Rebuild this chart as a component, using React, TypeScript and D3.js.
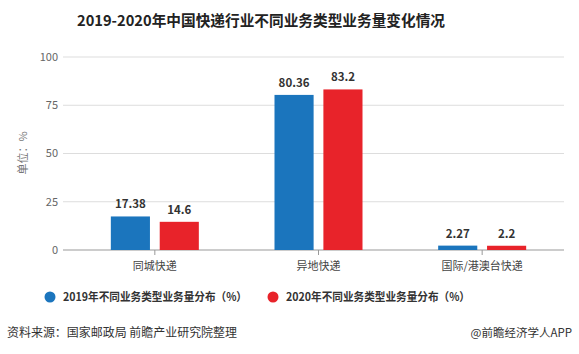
import React from "react";
import * as d3 from "d3";

const categories = ["同城快递", "异地快递", "国际/港澳台快递"];
const seriesNames = ["2019年不同业务类型业务量分布（%）", "2020年不同业务类型业务量分布（%）"];
const values2019 = [17.38, 80.36, 2.27];
const values2020 = [14.6, 83.2, 2.2];
const valueLabels2019 = ["17.38", "80.36", "2.27"];
const valueLabels2020 = ["14.6", "83.2", "2.2"];
const yTicks = [0, 25, 50, 75, 100];
const colors = ["#1b75bd", "#e8232a"];

const W = 579;
const H = 354;
const FONT = "'Noto Sans CJK SC', 'Noto Sans', sans-serif";

export default function App() {
  const x = d3.scaleBand<string>().domain(categories).range([73, 564]);
  const xs = d3.scaleBand<string>().domain(["0", "1"]).range([-44, 44]).paddingInner(0.2);
  const y = d3.scaleLinear().domain([0, 100]).range([250, 57]);
  const series = [
    { vals: values2019, labels: valueLabels2019 },
    { vals: values2020, labels: valueLabels2020 },
  ];
  return (
    <svg width={W} height={H} style={{ position: "absolute", left: 0, top: 0, background: "#fff" }} fontFamily={FONT}>
      <rect x={0} y={0} width={W} height={H} fill="#fff" />
      <text x={77} y={26} fontSize={15} fontWeight="bold" fill="#222" textLength={368} lengthAdjust="spacingAndGlyphs">
        2019-2020年中国快递行业不同业务类型业务量变化情况
      </text>
      {yTicks.map((t) => (
        <g key={t}>
          <line x1={63} x2={564} y1={y(t)} y2={y(t)} stroke={t === 0 ? "#999" : "#ddd"} strokeWidth={1} />
          <text x={58} y={y(t)} dy="0.35em" textAnchor="end" fontSize={11} fill="#666">
            {t}
          </text>
        </g>
      ))}
      <text transform={`translate(23,153) rotate(-90)`} textAnchor="middle" dy="0.35em" fontSize={11} fill="#777">
        单位：%
      </text>
      {categories.map((c) => {
        const cx = (x(c) as number) + x.bandwidth() / 2;
        return (
          <g key={c}>
            <line x1={cx} x2={cx} y1={250} y2={255} stroke="#999" />
            <text x={cx} y={266} dy="0.35em" textAnchor="middle" fontSize={11} fill="#444">
              {c}
            </text>
          </g>
        );
      })}
      {series.map((s, si) =>
        categories.map((c, ci) => {
          const cx = (x(c) as number) + x.bandwidth() / 2;
          const bx = cx + (xs(String(si)) as number);
          const v = s.vals[ci];
          return (
            <g key={`${si}-${ci}`}>
              <rect x={bx} y={y(v)} width={xs.bandwidth()} height={250 - y(v)} fill={colors[si]} />
              <text x={bx + xs.bandwidth() / 2} y={y(v) - 8} textAnchor="middle" fontSize={11.5} fontWeight="bold" fill="#333">
                {s.labels[ci]}
              </text>
            </g>
          );
        })
      )}
      {seriesNames.map((n, i) => {
        const lx = i === 0 ? 50 : 273;
        return (
          <g key={n}>
            <circle cx={lx} cy={297} r={5.5} fill={colors[i]} />
            <text x={lx + 13} y={297} dy="0.35em" fontSize={11.5} fontWeight="bold" fill="#333" textLength={184} lengthAdjust="spacingAndGlyphs">
              {n}
            </text>
          </g>
        );
      })}
      <text x={7} y={333} dy="0.35em" fontSize={12} fill="#333" textLength={230} lengthAdjust="spacingAndGlyphs">
        资料来源：国家邮政局 前瞻产业研究院整理
      </text>
      <text x={572} y={333} dy="0.35em" textAnchor="end" fontSize={11.5} fill="#333">
        @前瞻经济学人APP
      </text>
    </svg>
  );
}
